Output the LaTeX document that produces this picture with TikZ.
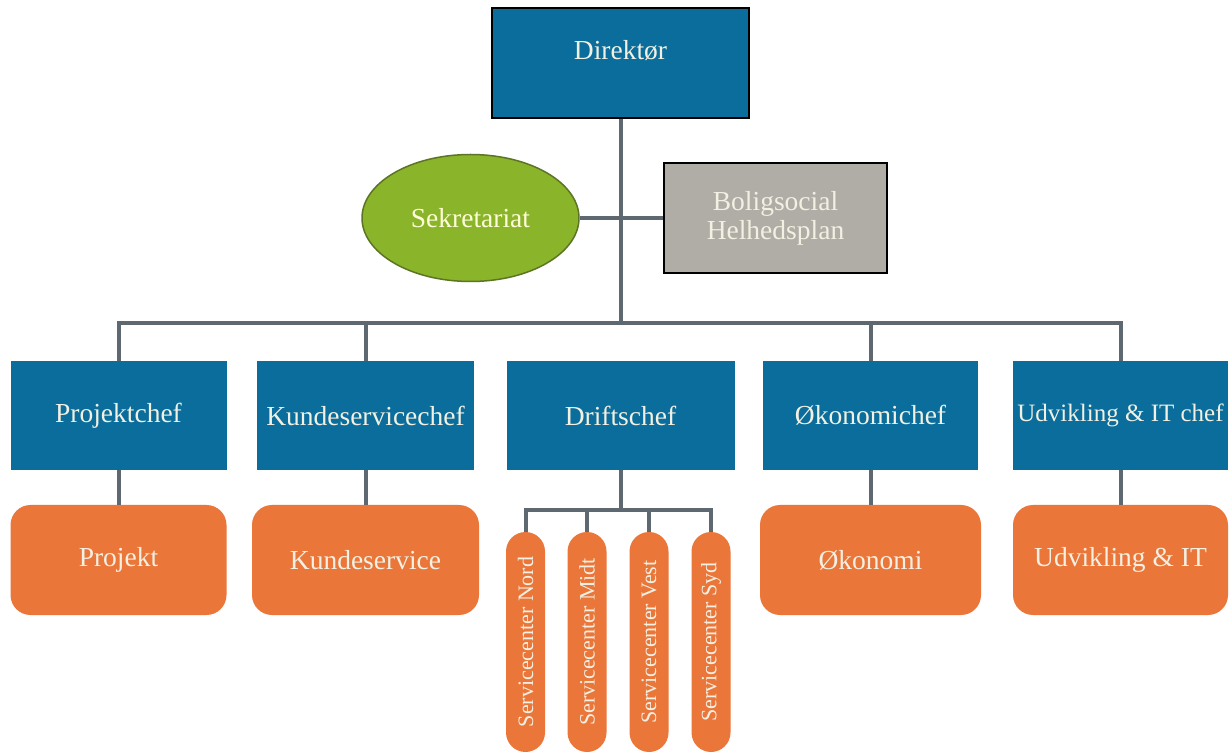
\documentclass[tikz,border=0pt]{standalone}
\usepackage{fontspec}
\setmainfont{Liberation Serif}
\usepackage{tikz}
\usetikzlibrary{shapes.geometric}
\definecolor{chefblue}{HTML}{0A6D9B}
\definecolor{unitorange}{HTML}{EB763A}
\definecolor{sekgreen}{HTML}{8AB52A}
\definecolor{sekedge}{HTML}{5C7424}
\definecolor{bolgray}{HTML}{AFADA6}
\definecolor{linegray}{HTML}{5E6870}
\definecolor{paletext}{HTML}{F2F0E2}

\begin{document}
\begin{tikzpicture}[x=1pt,y=1pt,node distance=250pt,
  every node/.style={text=paletext,font=\fontsize{27.5}{29}\selectfont,inner sep=0pt},
  chef/.style={rectangle,fill=chefblue,minimum height=109pt},
  unit/.style={rectangle,rounded corners=20pt,fill=unitorange,minimum height=110pt},
  svc/.style={rectangle,rounded corners=19.5pt,fill=unitorange,minimum width=220pt,
    minimum height=39pt,rotate=90,font=\fontsize{22}{24}\selectfont},
  wire/.style={draw=linegray,line width=4pt}]
  \path[fill=white,use as bounding box] (0,0) rectangle (1232,753);

  \node[chef,draw=black,line width=2pt,minimum width=257pt,minimum height=110pt,
    text depth=27pt] (dir) at (620.5,690) {Direktør};
  \node[ellipse,fill=sekgreen,draw=sekedge,line width=1.5pt,minimum width=217pt,
    minimum height=127pt,text=white!85!yellow] (sek) at (470.5,535) {Sekretariat};
  \node[rectangle,fill=bolgray,draw=black,line width=2pt,minimum width=223pt,
    minimum height=110pt,align=center] (bol) at (775.5,535) {Boligsocial\\Helhedsplan};

  \node[chef,minimum width=216pt] (pchef) at (118.5,337.5) {Projektchef};
  \node[chef,minimum width=217pt] (kchef) [right of=pchef,node distance=247pt] {Kundeservicechef};
  \node[chef,minimum width=228pt] (dchef) [right of=kchef,node distance=255pt] {Driftschef};
  \node[chef,minimum width=215pt] (ochef) [right of=dchef] {Økonomichef};
  \node[chef,minimum width=215pt,font=\fontsize{25}{28}\selectfont] (uchef) [right of=ochef] {Udvikling \& IT chef};

  \node[unit,minimum width=216pt] (proj) [below of=pchef,node distance=144.5pt] {Projekt};
  \node[unit,minimum width=227pt] (kserv) [below of=kchef,node distance=144.5pt] {Kundeservice};
  \node[unit,minimum width=221pt] (okon) [below of=ochef,node distance=144.5pt] {Økonomi};
  \node[unit,minimum width=215pt] (udv) [below of=uchef,node distance=144.5pt] {Udvikling \& IT};

  \foreach \n/\x/\t in {nord/525.5/Nord,midt/587/Midt,vest/649/Vest,syd/711/Syd}
    \node[svc] (\n) at (\x,111) {Servicecenter \t};

  \coordinate (bus) at (620.5,430);
  \coordinate (sbus) at (620.5,243);

  \draw[wire] (dir) -- (bus);
  \draw[wire] (sek) -- (bol);
  \draw[wire] (pchef) |- (bus) -| (uchef);
  \foreach \c in {kchef,ochef}
    \draw[wire] (\c) -- (\c |- bus);
  \draw[wire] (pchef) -- (proj);
  \draw[wire] (kchef) -- (kserv);
  \draw[wire] (ochef) -- (okon);
  \draw[wire] (uchef) -- (udv);
  \draw[wire] (dchef) -- (sbus);
  \draw[wire] (nord) |- (sbus) -| (syd);
  \foreach \c in {midt,vest}
    \draw[wire] (\c) -- (\c |- sbus);
\end{tikzpicture}
\end{document}
